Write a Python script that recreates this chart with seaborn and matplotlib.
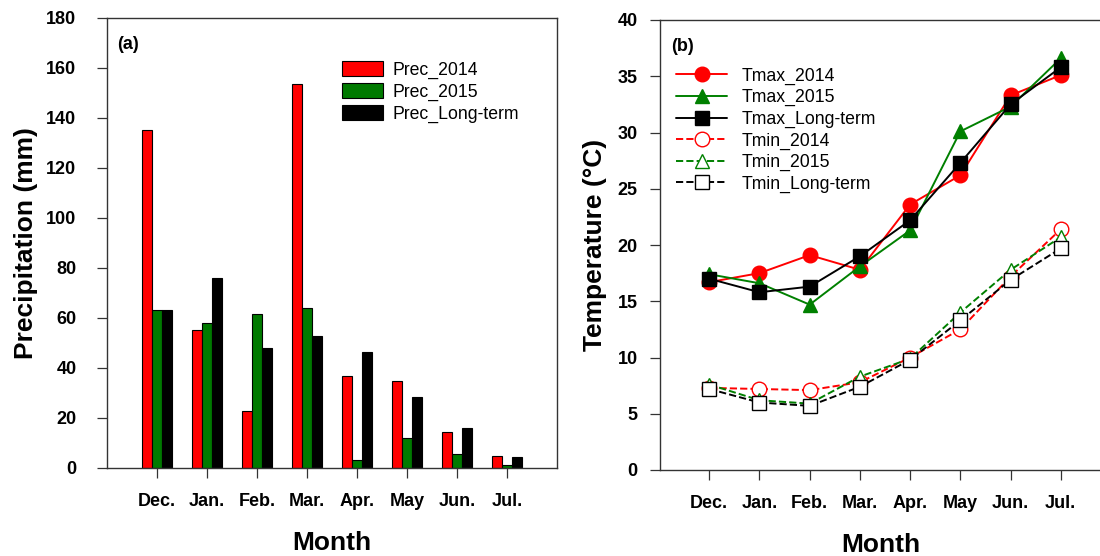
import numpy as np
import pandas as pd
import matplotlib
matplotlib.use('Agg')
import matplotlib.pyplot as plt
import seaborn as sns

sns.set_theme(style="white")
plt.rcParams['font.family'] = ['Liberation Sans', 'DejaVu Sans']
plt.rcParams['text.color'] = 'black'
plt.rcParams['axes.labelcolor'] = 'black'
plt.rcParams['xtick.labelcolor'] = 'black'
plt.rcParams['ytick.labelcolor'] = 'black'

months = ['Dec.', 'Jan.', 'Feb.', 'Mar.', 'Apr.', 'May', 'Jun.', 'Jul.']

# precipitation (mm)
prec_2014 = [135.2, 55.1, 22.8, 153.8, 36.7, 34.8, 14.3, 4.9]
prec_2015 = [63.4, 58.0, 61.5, 64.0, 3.3, 11.9, 5.6, 1.2]
prec_lt = [63.1, 75.9, 47.9, 52.8, 46.5, 28.3, 15.9, 4.3]

# temperature (°C)
tmax_2014 = [16.7, 17.5, 19.1, 17.8, 23.6, 26.2, 33.3, 35.1]
tmax_2015 = [17.4, 16.6, 14.7, 18.1, 21.3, 30.1, 32.3, 36.6]
tmax_lt = [17.0, 15.8, 16.3, 19.0, 22.2, 27.3, 32.5, 35.8]
tmin_2014 = [7.3, 7.2, 7.1, 7.8, 10.0, 12.5, 17.2, 21.4]
tmin_2015 = [7.6, 6.2, 5.9, 8.3, 9.9, 14.0, 17.8, 20.7]
tmin_lt = [7.2, 6.0, 5.7, 7.4, 9.8, 13.3, 16.9, 19.7]

prec = pd.DataFrame({
    'Month': months * 3,
    'Series': ['Prec_2014'] * 8 + ['Prec_2015'] * 8 + ['Prec_Long-term'] * 8,
    'Prec': prec_2014 + prec_2015 + prec_lt,
})

fig = plt.figure(figsize=(11, 5.56), dpi=100)
ax1 = fig.add_axes([107 / 1100, 1 - 468 / 556, 450 / 1100, 450 / 556])
ax2 = fig.add_axes([660 / 1100, 1 - 470 / 556, 442 / 1100, 450 / 556])

tick_font = dict(fontsize=13, fontweight='bold')
label_font = dict(fontsize=19, fontweight='bold')

# ---- (a) precipitation bars
sns.barplot(data=prec, x='Month', y='Prec', hue='Series', ax=ax1,
            palette=['#ff0000', '#007a00', '#000000'], width=0.6, gap=0,
            edgecolor='black', linewidth=0.8, saturation=1)
ax1.set_xlim(-1, 8)
ax1.set_ylim(0, 180)
ax1.set_yticks(np.arange(0, 181, 20))
ax1.set_xticks(range(8))
ax1.set_xticklabels(months, **tick_font)
ax1.set_yticklabels([str(v) for v in range(0, 181, 20)], **tick_font)
ax1.set_xlabel('Month', labelpad=15, **label_font)
ax1.set_ylabel('Precipitation (mm)', labelpad=6, **label_font)
ax1.text(0.022, 0.96, '(a)', transform=ax1.transAxes, ha='left', va='top',
         fontsize=13, fontweight='bold')
ax1.legend(title=None, frameon=False, fontsize=12.7, loc='upper left',
           bbox_to_anchor=(0.507, 0.92), handlelength=2.3, handleheight=0.9,
           labelspacing=0.25, handletextpad=0.55, borderaxespad=0)

# ---- (b) temperature lines
series = [
    ('Tmax_2014', tmax_2014, '#ff0000', 'o', '-', '#ff0000'),
    ('Tmax_2015', tmax_2015, '#008000', '^', '-', '#008000'),
    ('Tmax_Long-term', tmax_lt, '#000000', 's', '-', '#000000'),
    ('Tmin_2014', tmin_2014, '#ff0000', 'o', '--', 'white'),
    ('Tmin_2015', tmin_2015, '#008000', '^', '--', 'white'),
    ('Tmin_Long-term', tmin_lt, '#000000', 's', '--', 'white'),
]
x = np.arange(len(months))
for name, vals, col, mk, ls, fc in series:
    sns.lineplot(x=x, y=vals, ax=ax2, color=col, marker=mk, linestyle=ls,
                 markersize=10.5, markerfacecolor=fc, markeredgecolor=col,
                 markeredgewidth=1.0, linewidth=1.4, label=name,
                 dashes=(5, 2.5) if ls == '--' else '')
ax2.set_xlim(-0.98, 7.82)
ax2.set_ylim(0, 40)
ax2.set_xticks(range(8))
ax2.set_xticklabels(months, **tick_font)
ax2.set_yticks(np.arange(0, 41, 5))
ax2.set_yticklabels([str(v) for v in range(0, 41, 5)], **tick_font)
ax2.set_xlabel('Month', labelpad=15, **label_font)
ax2.set_ylabel('Temperature (°C)', labelpad=8, **label_font)
ax2.text(0.025, 0.96, '(b)', transform=ax2.transAxes, ha='left', va='top',
         fontsize=13, fontweight='bold')
ax2.legend(frameon=False, fontsize=12.7, loc='upper left',
           bbox_to_anchor=(0.021, 0.91), handlelength=2.9, labelspacing=0.25,
           handletextpad=0.8, borderaxespad=0)

for ax in (ax1, ax2):
    for s in ax.spines.values():
        s.set_color('#333333')
        s.set_linewidth(1.0)
    ax.tick_params(axis='both', direction='out', length=7, width=0.9,
                   color='#333333', labelcolor='black', bottom=True, left=True)
    ax.tick_params(axis='x', pad=11)
ax1.tick_params(axis='y', pad=15)
ax2.tick_params(axis='y', pad=9)
ax2.spines['right'].set_visible(False)

fig.savefig('out.png', dpi=100)
